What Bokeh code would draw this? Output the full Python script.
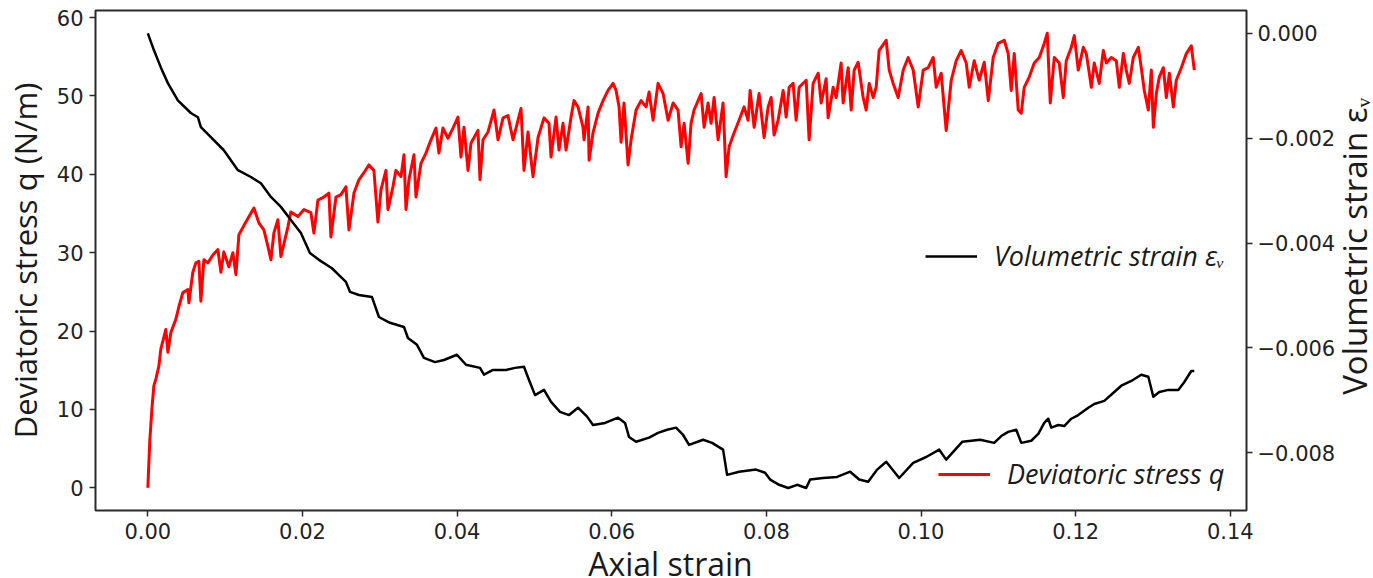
import math
from bokeh.plotting import figure
from bokeh.layouts import row, column
from bokeh.models import (Range1d, LinearAxis, FixedTicker, CustomJSTickFormatter,
                          PrintfTickFormatter, Legend, LegendItem, Label)
from bokeh.embed import file_html
from bokeh.resources import INLINE

# ---------------- data ----------------
# Deviatoric stress q (N/m) against axial strain
q_strain = [
    0.0, 0.00013, 0.00026, 0.00052, 0.00078, 0.00104, 0.00142, 0.00168, 0.00233, 0.00259,
    0.00298, 0.00362, 0.00401, 0.00453, 0.00518, 0.00531, 0.00582, 0.00621, 0.00660, 0.00686,
    0.00725, 0.00776, 0.00841, 0.00906, 0.00945, 0.00983, 0.01048, 0.01100, 0.01139, 0.01178,
    0.01268, 0.01372, 0.01436, 0.01501, 0.01553, 0.01592, 0.01630, 0.01682, 0.01721, 0.01812,
    0.01850, 0.01941, 0.02019, 0.02109, 0.02148, 0.02200, 0.02277, 0.02342, 0.02368, 0.02433,
    0.02498, 0.02562, 0.02601, 0.02666, 0.02730, 0.02795, 0.02860, 0.02924, 0.02976, 0.03015,
    0.03080, 0.03106, 0.03170, 0.03209, 0.03274, 0.03313, 0.03339, 0.03377, 0.03442, 0.03468,
    0.03533, 0.03597, 0.03662, 0.03727, 0.03765, 0.03817, 0.03882, 0.03947, 0.04011, 0.04050,
    0.04089, 0.04141, 0.04180, 0.04270, 0.04296, 0.04335, 0.04400, 0.04477, 0.04529, 0.04594,
    0.04658, 0.04723, 0.04762, 0.04827, 0.04865, 0.04917, 0.04982, 0.05047, 0.05124, 0.05189,
    0.05215, 0.05280, 0.05318, 0.05370, 0.05409, 0.05474, 0.05512, 0.05564, 0.05629, 0.05642,
    0.05694, 0.05707, 0.05758, 0.05823, 0.05888, 0.05952, 0.06017, 0.06056, 0.06095, 0.06121,
    0.06159, 0.06211, 0.06250, 0.06315, 0.06379, 0.06444, 0.06483, 0.06535, 0.06599, 0.06664,
    0.06729, 0.06794, 0.06858, 0.06897, 0.06936, 0.06988, 0.07026, 0.07065, 0.07156, 0.07195,
    0.07246, 0.07285, 0.07324, 0.07376, 0.07440, 0.07479, 0.07518, 0.07583, 0.07647, 0.07712,
    0.07764, 0.07790, 0.07842, 0.07906, 0.07971, 0.08023, 0.08062, 0.08100, 0.08152, 0.08217,
    0.08256, 0.08295, 0.08346, 0.08385, 0.08424, 0.08515, 0.08553, 0.08605, 0.08670, 0.08709,
    0.08773, 0.08799, 0.08864, 0.08903, 0.08967, 0.08993, 0.09058, 0.09097, 0.09136, 0.09187,
    0.09252, 0.09291, 0.09330, 0.09382, 0.09420, 0.09459, 0.09550, 0.09589, 0.09640, 0.09705,
    0.09770, 0.09834, 0.09899, 0.09964, 0.10029, 0.10093, 0.10158, 0.10197, 0.10261, 0.10326,
    0.10391, 0.10456, 0.10520, 0.10585, 0.10624, 0.10688, 0.10753, 0.10818, 0.10870, 0.10934,
    0.10999, 0.11077, 0.11128, 0.11167, 0.11206, 0.11258, 0.11297, 0.11335, 0.11400, 0.11465,
    0.11530, 0.11594, 0.11633, 0.11672, 0.11724, 0.11788, 0.11840, 0.11879, 0.11944, 0.11983,
    0.12034, 0.12099, 0.12138, 0.12177, 0.12203, 0.12241, 0.12306, 0.12358, 0.12397, 0.12461,
    0.12526, 0.12565, 0.12617, 0.12655, 0.12694, 0.12746, 0.12811, 0.12849, 0.12888, 0.12940,
    0.12979, 0.13005, 0.13044, 0.13082, 0.13134, 0.13173, 0.13212, 0.13264, 0.13302, 0.13367,
    0.13432, 0.13496, 0.13535,
]
q_values = [
    0.0, 3.1, 6.1, 10.0, 13.0, 13.9, 15.5, 17.7, 20.2, 17.3,
    19.8, 21.5, 23.1, 24.9, 25.3, 23.6, 27.5, 28.7, 28.9, 23.8,
    29.1, 28.7, 29.7, 30.4, 27.5, 30.1, 28.2, 30.0, 27.2, 32.3,
    33.9, 35.7, 33.8, 32.9, 30.8, 29.1, 32.5, 34.2, 29.5, 33.3,
    35.2, 34.6, 35.5, 35.1, 32.5, 36.7, 37.1, 37.6, 32.0, 37.1,
    37.4, 38.4, 32.9, 37.6, 39.3, 40.2, 41.2, 40.5, 33.9, 38.0,
    40.5, 35.5, 38.4, 40.5, 39.7, 42.5, 35.5, 39.3, 42.5, 37.1,
    41.4, 42.7, 44.4, 45.9, 42.7, 45.9, 44.6, 45.9, 47.3, 42.2,
    46.0, 40.5, 44.0, 45.6, 39.3, 44.4, 45.4, 48.2, 44.4, 47.2,
    47.5, 44.4, 45.9, 48.4, 40.5, 45.4, 39.7, 44.7, 47.2, 46.5,
    42.2, 47.3, 43.1, 46.5, 43.1, 47.3, 49.4, 48.6, 46.0, 44.4,
    48.6, 41.8, 45.3, 47.8, 49.4, 50.7, 51.6, 50.7, 48.6, 44.1,
    49.1, 41.2, 44.4, 48.2, 49.4, 48.6, 50.5, 46.9, 51.6, 50.3,
    46.9, 49.1, 48.2, 43.5, 46.5, 41.4, 46.5, 48.2, 50.3, 46.0,
    49.1, 46.5, 49.8, 44.4, 49.1, 39.7, 43.5, 45.3, 46.9, 48.6,
    46.9, 50.7, 46.0, 50.3, 44.7, 48.6, 49.8, 45.0, 46.9, 50.7,
    47.3, 51.1, 51.6, 46.9, 51.1, 52.0, 44.4, 51.6, 52.9, 49.1,
    52.2, 47.2, 51.1, 49.8, 54.2, 49.1, 53.6, 48.2, 53.3, 54.3,
    49.8, 48.2, 51.6, 49.8, 51.1, 55.8, 57.1, 53.3, 51.6, 49.8,
    53.3, 54.9, 53.3, 48.6, 53.3, 53.6, 54.9, 51.1, 52.9, 45.6,
    52.0, 54.5, 55.8, 54.2, 51.1, 54.5, 52.0, 54.3, 49.4, 54.9,
    56.7, 57.1, 55.4, 50.7, 55.4, 48.2, 47.8, 51.1, 52.4, 54.2,
    54.9, 56.7, 58.0, 49.1, 54.9, 54.2, 49.8, 54.5, 56.2, 57.7,
    53.3, 56.2, 55.4, 52.9, 51.1, 54.2, 51.6, 55.8, 54.2, 54.9,
    54.5, 51.1, 55.4, 53.3, 51.6, 54.9, 56.2, 53.6, 50.7, 48.2,
    53.3, 46.0, 50.3, 52.4, 53.6, 49.8, 52.9, 48.6, 52.0, 53.6,
    55.4, 56.4, 53.3,
]

# Volumetric strain against axial strain
ev_strain = [
    0.00000, 0.00078, 0.00168, 0.00259, 0.00388, 0.00556, 0.00647, 0.00686, 0.00815, 0.00983,
    0.01165, 0.01333, 0.01462, 0.01592, 0.01721, 0.01850, 0.01980, 0.02096, 0.02213, 0.02381,
    0.02472, 0.02562, 0.02614, 0.02730, 0.02899, 0.02989, 0.03131, 0.03313, 0.03364, 0.03481,
    0.03571, 0.03714, 0.03830, 0.03998, 0.04115, 0.04296, 0.04348, 0.04464, 0.04633, 0.04749,
    0.04865, 0.04930, 0.05008, 0.05124, 0.05215, 0.05331, 0.05448, 0.05564, 0.05681, 0.05758,
    0.05914, 0.06082, 0.06172, 0.06224, 0.06315, 0.06483, 0.06599, 0.06716, 0.06832, 0.06923,
    0.07000, 0.07182, 0.07298, 0.07440, 0.07492, 0.07647, 0.07867, 0.07983, 0.08049, 0.08165,
    0.08282, 0.08398, 0.08515, 0.08566, 0.08734, 0.08915, 0.09084, 0.09200, 0.09317, 0.09433,
    0.09550, 0.09718, 0.09899, 0.10067, 0.10236, 0.10326, 0.10533, 0.10766, 0.10947, 0.11038,
    0.11128, 0.11232, 0.11297, 0.11426, 0.11517, 0.11594, 0.11646, 0.11685, 0.11776, 0.11853,
    0.11944, 0.12034, 0.12164, 0.12241, 0.12371, 0.12500, 0.12591, 0.12720, 0.12849, 0.12940,
    0.13005, 0.13082, 0.13199, 0.13328, 0.13406, 0.13496, 0.13535,
]
ev_values = [
    0.0, -0.00032, -0.00065, -0.00095, -0.00128, -0.00152, -0.00160, -0.00179, -0.00198, -0.00223,
    -0.00261, -0.00274, -0.00286, -0.00312, -0.00331, -0.00356, -0.00381, -0.00419, -0.00432, -0.00448,
    -0.00461, -0.00474, -0.00493, -0.00499, -0.00503, -0.00541, -0.00552, -0.00560, -0.00581, -0.00594,
    -0.00619, -0.00627, -0.00623, -0.00613, -0.00632, -0.00638, -0.00651, -0.00642, -0.00642, -0.00638,
    -0.00636, -0.00661, -0.00690, -0.00680, -0.00703, -0.00722, -0.00728, -0.00714, -0.00731, -0.00747,
    -0.00743, -0.00733, -0.00743, -0.00770, -0.00779, -0.00771, -0.00762, -0.00756, -0.00752, -0.00766,
    -0.00785, -0.00775, -0.00781, -0.00794, -0.00842, -0.00836, -0.00832, -0.00838, -0.00851, -0.00861,
    -0.00867, -0.00861, -0.00867, -0.00851, -0.00848, -0.00846, -0.00836, -0.00851, -0.00855, -0.00832,
    -0.00817, -0.00848, -0.00819, -0.00808, -0.00794, -0.00813, -0.00779, -0.00775, -0.00781, -0.00768,
    -0.00760, -0.00756, -0.00781, -0.00777, -0.00764, -0.00743, -0.00735, -0.00752, -0.00747, -0.00749,
    -0.00735, -0.00728, -0.00714, -0.00707, -0.00701, -0.00684, -0.00672, -0.00663, -0.00651, -0.00655,
    -0.00693, -0.00684, -0.00680, -0.00680, -0.00665, -0.00644, -0.00644,
]

x_ticks = [0.0, 0.02, 0.04, 0.06, 0.08, 0.10, 0.12, 0.14]
q_ticks = [0, 10, 20, 30, 40, 50, 60]
ev_ticks = [0.0, -0.002, -0.004, -0.006, -0.008]

x_title = "Axial strain"
q_title = "Deviatoric stress q (N/m)"
ev_title = "Volumetric strain εᵥ"
ev_legend = "Volumetric strain εᵥ"
q_legend = "Deviatoric stress q"

# ---------------- layout sizes (pixels) ----------------
W, H = 1373, 578
MAIN_W, MAIN_H = 1340, 547          # main chart; strips for titles right / below
SIDE_W, BOTTOM_H = W - MAIN_W, H - MAIN_H

# ---------------- main figure ----------------
p = figure(width=MAIN_W, height=MAIN_H, output_backend="svg", toolbar_location=None,
           x_range=Range1d(-0.00677, 0.1421), y_range=Range1d(-2.9, 60.9),
           min_border_left=95, min_border_right=MAIN_W - 1246, min_border_top=10,
           min_border_bottom=MAIN_H - 510)
p.extra_y_ranges = {"ev": Range1d(-0.0091, 0.000435)}
p.xgrid.visible = False
p.ygrid.visible = False
p.outline_line_color = "#2a2a2a"
p.outline_line_width = 2
p.outline_line_alpha = 1.0
p.background_fill_color = "white"
p.border_fill_color = "white"

right_axis = LinearAxis(y_range_name="ev")
p.add_layout(right_axis, "right")

p.xaxis.ticker = FixedTicker(ticks=x_ticks)
p.xaxis.formatter = PrintfTickFormatter(format="%.2f")
p.yaxis[0].ticker = FixedTicker(ticks=q_ticks)
right_axis.ticker = FixedTicker(ticks=ev_ticks)
right_axis.formatter = CustomJSTickFormatter(
    code="return tick.toFixed(3).replace('-', '\\u2212');")

for ax in [p.xaxis[0], p.yaxis[0], right_axis]:
    ax.axis_line_color = None
    ax.major_tick_line_color = "#2a2a2a"
    ax.major_tick_line_width = 1.5
    ax.major_tick_out = 6
    ax.major_tick_in = 0
    ax.minor_tick_line_color = None
    ax.major_label_text_font = "DejaVu Sans"
    ax.major_label_text_font_size = "21px"
    ax.major_label_text_color = "#222222"
    ax.major_label_standoff = 6
    ax.axis_label = None
right_axis.major_label_standoff = 5

p.yaxis[0].axis_label = q_title
p.yaxis[0].axis_label_standoff = 8
p.yaxis[0].axis_label_text_font = "Open Sans"
p.yaxis[0].axis_label_text_font_size = "31px"
p.yaxis[0].axis_label_text_font_style = "normal"
p.yaxis[0].axis_label_text_color = "#1a1a1a"

r_red = p.line(q_strain, q_values, line_color="#ff0000", line_width=3.0,
               line_join="round")
r_black = p.line(ev_strain, ev_values, y_range_name="ev", line_color="black",
                 line_width=2.5, line_join="round")

def make_legend(label, renderer, loc):
    return Legend(items=[LegendItem(label=label, renderers=[renderer])],
                  location=loc, border_line_color=None,
                  background_fill_alpha=0.0, padding=0, margin=0, spacing=0,
                  glyph_width=52, glyph_height=20, label_standoff=17,
                  label_text_font="Open Sans", label_text_font_style="italic",
                  label_text_font_size="27px", label_text_color="#1a1a1a")

p.add_layout(make_legend(ev_legend, r_black, (830, 236)))
p.add_layout(make_legend(q_legend, r_red, (843, 18)))

# ---------------- strips that carry the right and bottom axis titles ----------------
def strip(w, h):
    s = figure(width=w, height=h, output_backend="svg", toolbar_location=None,
               x_range=Range1d(0, w), y_range=Range1d(0, h),
               x_axis_type=None, y_axis_type=None, min_border=0)
    s.xgrid.visible = False
    s.ygrid.visible = False
    s.outline_line_color = None
    s.background_fill_color = "white"
    s.border_fill_color = "white"
    return s

side = strip(SIDE_W, MAIN_H)
side.add_layout(Label(x=14, y=289, text=ev_title, angle=math.pi / 2,
                      text_align="center", text_baseline="middle", text_font="Open Sans",
                      text_font_size="33px", text_color="#1a1a1a"))

bottom = strip(W, BOTTOM_H)
bottom.add_layout(Label(x=670, y=15, text=x_title, text_align="center",
                        text_baseline="middle", text_font="Open Sans",
                        text_font_size="32px", text_color="#1a1a1a"))

layout = column(row(p, side, spacing=0), bottom, spacing=0)

with open("out.html", "w", encoding="utf-8") as f:
    f.write(file_html(layout, INLINE))
